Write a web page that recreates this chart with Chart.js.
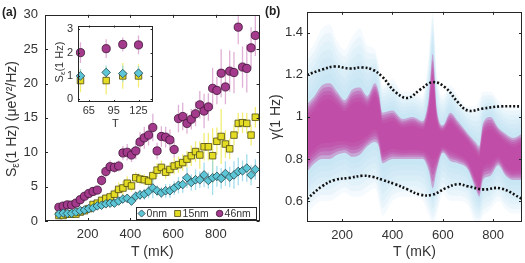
<!DOCTYPE html>
<html lang="en">
<head>
<meta charset="UTF-8">
<title>Noise amplitude and exponent vs temperature</title>
<script src="https://cdn.jsdelivr.net/npm/chart.js"></script>
<style>
  body { margin: 0; background: #fff; font-family: 'Liberation Sans', Arial, sans-serif; }
  #page { position: relative; width: 525px; height: 263px; overflow: hidden; }
  canvas { position: absolute; }
  #chartA { left: 0; top: 0; }
  #chartB { left: 262px; top: 0; }
  #chartIn { left: 48px; top: 14px; }
  .tag { position: absolute; font-size: 12px; font-weight: bold; color: #222; }
</style>
</head>
<body>
<div id="page">
  <canvas id="chartA" width="265" height="263"></canvas>
  <canvas id="chartB" width="263" height="263"></canvas>
  <canvas id="chartIn" width="110" height="118"></canvas>
  <div class="tag" style="left:2px; top:5px;">(a)</div>
  <div class="tag" style="left:265px; top:4px;">(b)</div>
</div>

<script>
const FONT = "'Liberation Sans', Arial, sans-serif";
const INK = '#262626';
const LABEL = '#333';

// ---- panel (a): S(1 Hz) vs T ----
const tempA = [65, 85, 105, 125, 145, 165, 185, 205, 225, 245, 265, 285, 305, 325, 345, 365, 385, 405, 425, 445,
  465, 485, 505, 525, 545, 565, 585, 605, 625, 645, 665, 685, 705, 725, 745, 765, 785, 805, 825, 845, 865, 885,
  905, 925, 945, 965, 985];
const names = ['0nm', '15nm', '46nm'];
const s0nm = [1.0, 1.15, 1.1, 1.12, 1.3, 1.5, 1.6, 1.8, 1.9, 2.2, 2.3, 2.5, 2.6, 2.6, 2.9, 3.2, 3.3, 2.9, 3.6, 3.8,
  3.9, 4.3, 4.8, 4.4, 4.1, 4.4, 4.4, 4.8, 5.2, 5.3, 6.3, 5.6, 6.0, 6.0, 6.7, 5.9, 6.3, 6.5, 6.2, 6.9,
  6.4, 6.7, 7.2, 7.3, 7.7, 6.7, 7.5];
const s15nm = [0.8, 0.8, 1.0, 1.0, 1.0, 1.3, 1.5, 1.8, 2.4, 2.6, 3.0, 3.3, 3.5, 3.9, 4.6, 4.8, 5.5, 5.1, 6.3, 6.1,
  6.0, 5.8, 6.6, 7.4, 7.8, 7.1, 7.5, 8.0, 8.2, 8.5, 9.0, 9.5, 10.1, 9.6, 10.8, 10.8, 9.5, 11.6, 12.3, 11.2,
  10.5, 12.5, 14.2, 14.3, 14.2, 12.5, 15.1];
const s46nm = [2.0, 2.17, 2.35, 2.33, 2.6, 3.1, 3.6, 4.0, 4.3, 4.5, 5.9, 7.2, 7.9, 7.8, 8.0, 9.9, 10.0, 9.6, 10.2, 11.5,
  12.1, 12.5, 13.6, 10.2, 12.3, 12.2, 11.8, 10.4, 14.9, 15.2, 14.2, 14.8, 15.6, 16.9, 16.0, 16.6, 19.3, 19.0, 21.5, 19.5,
  21.8, 21.6, 28.2, 22.4, 22.2, 25.2, 27.0];
const e0nm = [0.2, 0.2, 0.2, 0.2, 0.3, 0.3, 0.3, 0.3, 0.3, 0.4, 0.4, 0.4, 0.4, 0.5, 0.5, 0.6, 0.6, 0.6, 0.7, 0.7,
  0.8, 1.0, 1.5, 0.8, 0.8, 1.0, 1.0, 1.0, 1.2, 1.2, 1.5, 1.2, 1.5, 1.2, 1.8, 1.2, 2.5, 1.5, 1.5, 1.8,
  1.5, 2.0, 2.0, 1.5, 2.0, 1.5, 1.5];
const e15nm = [0.2, 0.2, 0.2, 0.2, 0.3, 0.3, 0.4, 0.4, 0.5, 0.5, 0.6, 0.6, 0.7, 0.8, 1.0, 1.0, 1.0, 0.8, 0.8, 0.8,
  0.8, 0.8, 0.8, 1.0, 1.0, 1.0, 1.0, 1.2, 1.2, 1.2, 1.2, 1.5, 1.5, 2.0, 2.0, 2.0, 4.0, 2.0, 4.0, 2.0,
  1.5, 1.5, 1.5, 1.5, 1.5, 1.5, 1.5];
const e46nm = [0.3, 0.3, 0.3, 0.3, 0.4, 0.4, 0.5, 0.5, 0.6, 0.6, 0.8, 0.9, 0.9, 0.8, 0.8, 1.0, 1.2, 1.0, 1.2, 1.4,
  1.6, 1.5, 2.0, 1.2, 1.5, 1.5, 1.5, 1.2, 2.0, 2.0, 1.5, 1.5, 1.8, 2.0, 2.5, 2.0, 3.0, 2.0, 3.5, 2.5,
  3.0, 3.0, 2.5, 3.0, 3.5, 3.0, 3.0];
const aXTicks = [200, 400, 600, 800];
const aYTicks = [0, 5, 10, 15, 20, 25, 30];

// ---- inset of (a): low temperatures ----
const tempIn = [55, 86, 106, 125];
const in0nm = [1.0, 1.15, 1.1, 1.12];
const in15nm = [0.8, 0.8, 1.0, 1.0];
const in46nm = [2.0, 2.17, 2.35, 2.33];
const inE0nm = [0.3, 0.3, 0.35, 0.3];
const inE15nm = [0.5, 0.6, 0.55, 0.5];
const inE46nm = [0.45, 0.4, 0.3, 0.4];
const inXTicks = [65, 95, 125];
const inYTicks = [0, 1, 2, 3];

// ---- panel (b): gamma(1 Hz) distribution vs T ----
const bT = [60, 90, 120, 150, 180, 210, 240, 270, 300, 330, 345, 360, 400, 440, 480, 520, 545, 560, 575, 600,
  630, 660, 700, 730, 745, 760, 790, 820, 850, 880, 915];
const coreHi = [1.06, 1.10, 1.15, 1.16, 1.12, 1.08, 1.13, 1.14, 1.10, 1.16, 1.12, 1.02, 1.03, 0.99, 1.00, 0.98, 1.10, 1.30, 1.05, 0.96,
  1.02, 0.98, 0.92, 0.88, 0.86, 0.97, 1.00, 0.95, 0.92, 0.90, 0.92];
const coreLo = [0.74, 0.78, 0.80, 0.80, 0.82, 0.83, 0.81, 0.82, 0.86, 0.88, 0.86, 0.78, 0.80, 0.80, 0.80, 0.80, 0.74, 0.66, 0.74, 0.83,
  0.79, 0.78, 0.75, 0.66, 0.62, 0.70, 0.72, 0.77, 0.72, 0.70, 0.70];
const haloHi = [1.30, 1.35, 1.42, 1.44, 1.36, 1.32, 1.38, 1.42, 1.34, 1.32, 1.25, 1.15, 1.18, 1.12, 1.12, 1.10, 1.30, 1.50, 1.22, 1.10,
  1.15, 1.10, 1.05, 1.05, 1.08, 1.12, 1.12, 1.08, 1.05, 1.05, 1.05];
const haloLo = [0.54, 0.58, 0.60, 0.60, 0.62, 0.64, 0.62, 0.62, 0.64, 0.66, 0.60, 0.53, 0.60, 0.62, 0.62, 0.60, 0.53, 0.50, 0.53, 0.63,
  0.60, 0.60, 0.58, 0.50, 0.50, 0.53, 0.56, 0.60, 0.56, 0.54, 0.54];
const boundT = [60, 120, 170, 230, 280, 320, 360, 410, 460, 510, 560, 610, 660, 700, 760, 830, 915];
const boundHi = [1.20, 1.225, 1.24, 1.23, 1.235, 1.225, 1.19, 1.12, 1.09, 1.13, 1.165, 1.14, 1.07, 1.03, 1.04, 1.05, 1.05];
const boundLo = [0.61, 0.67, 0.70, 0.71, 0.72, 0.715, 0.70, 0.68, 0.655, 0.63, 0.63, 0.66, 0.68, 0.67, 0.655, 0.66, 0.61];
const bXTicks = [200, 400, 600, 800];
const bYTicks = [0.6, 0.8, 1, 1.2, 1.4];

// marker looks for the three samples
const looks = [
  { style: 'rectRot', fill: '#5CC6D6', edge: '#24434a', bar: 'rgba(140,214,232,0.8)', r: 4.3 },
  { style: 'rect', fill: '#E5DD23', edge: '#4d4812', bar: 'rgba(240,234,90,0.85)', r: 4.6 },
  { style: 'circle', fill: '#A33A8C', edge: '#3b1333', bar: 'rgba(214,150,200,0.75)', r: 4.1 }
];

function errorLine(xs, ys, es) {
  const pts = [];
  xs.forEach((x, i) => {
    pts.push({ x, y: ys[i] - es[i] }, { x, y: ys[i] + es[i] }, { x, y: null });
  });
  return pts;
}

function seriesSets(xs, series, errs, clip) {
  const sets = [];
  series.forEach((ys, k) => {
    sets.push({ type: 'line', data: errorLine(xs, ys, errs[k]), borderColor: looks[k].bar, borderWidth: 1.3,
      pointRadius: 0, spanGaps: false, fill: false, order: 10, clip });
  });
  series.forEach((ys, k) => {
    sets.push({ label: names[k], data: xs.map((x, i) => ({ x, y: ys[i] })), pointStyle: looks[k].style,
      pointRadius: looks[k].r, backgroundColor: looks[k].fill, borderColor: looks[k].edge, borderWidth: 0.8,
      order: k + 1, clip });
  });
  return sets;
}

function fixedTicks(list) {
  return scale => { scale.ticks = list.map(v => ({ value: v })); };
}

// box around plot area with inward ticks, MATLAB style
const frame = {
  id: 'frame',
  beforeDatasetsDraw(chart, args, opts) {
    if (!opts.fill) return;
    const a = chart.chartArea, ctx = chart.ctx;
    ctx.save();
    ctx.fillStyle = opts.fill;
    ctx.fillRect(a.left, a.top, a.width, a.height);
    ctx.restore();
  },
  afterDatasetsDraw(chart, args, opts) {
    const { ctx, chartArea: a, scales: { x, y } } = chart;
    const len = opts.tick || 3;
    ctx.save();
    ctx.strokeStyle = INK;
    ctx.lineWidth = 1;
    ctx.beginPath();
    x.ticks.forEach(t => {
      const p = Math.round(x.getPixelForValue(t.value)) + 0.5;
      ctx.moveTo(p, a.bottom); ctx.lineTo(p, a.bottom - len);
      ctx.moveTo(p, a.top); ctx.lineTo(p, a.top + len);
    });
    y.ticks.forEach(t => {
      const p = Math.round(y.getPixelForValue(t.value)) + 0.5;
      ctx.moveTo(a.left, p); ctx.lineTo(a.left + len, p);
      ctx.moveTo(a.right, p); ctx.lineTo(a.right - len, p);
    });
    ctx.stroke();
    ctx.strokeRect(Math.round(a.left) + 0.5, Math.round(a.top) + 0.5, Math.round(a.width) - 1, Math.round(a.height) - 1);
    ctx.restore();
  }
};

// rotated axis title with a subscript part
function subTitle(parts, x, y, size) {
  return {
    id: 'subTitle',
    afterDraw(chart) {
      const ctx = chart.ctx;
      const fontOf = p => (p.sub ? size * 0.72 : size) + 'px ' + FONT;
      ctx.save();
      ctx.translate(x, y);
      ctx.rotate(-Math.PI / 2);
      ctx.fillStyle = LABEL;
      ctx.textBaseline = 'middle';
      ctx.textAlign = 'left';
      let total = 0;
      parts.forEach(p => { ctx.font = fontOf(p); total += ctx.measureText(p.text).width; });
      let cx = -total / 2;
      parts.forEach(p => {
        ctx.font = fontOf(p);
        ctx.fillText(p.text, cx, p.sub ? size * 0.3 : 0);
        cx += ctx.measureText(p.text).width;
      });
      ctx.restore();
    }
  };
}

function markerPath(ctx, style, x, y, r) {
  ctx.beginPath();
  if (style === 'circle') ctx.arc(x, y, r, 0, Math.PI * 2);
  else if (style === 'rect') { const s = r * Math.SQRT1_2; ctx.rect(x - s, y - s, 2 * s, 2 * s); }
  else { ctx.moveTo(x - r, y); ctx.lineTo(x, y - r); ctx.lineTo(x + r, y); ctx.lineTo(x, y + r); ctx.closePath(); }
}

// legend box sitting in the lower right corner of panel (a)
const legendA = {
  id: 'legendA',
  afterDraw(chart) {
    const { ctx, chartArea: a } = chart;
    const w = 120, h = 12;
    const left = a.right - 4 - w, top = a.bottom - 2 - h;
    const offs = [6, 42, 84];
    const radii = [3.6, 4.2, 3.3];
    ctx.save();
    ctx.fillStyle = '#fff';
    ctx.fillRect(left, top, w, h);
    ctx.strokeStyle = INK;
    ctx.lineWidth = 1;
    ctx.strokeRect(Math.round(left) + 0.5, Math.round(top) + 0.5, w, h);
    ctx.font = '10.5px ' + FONT;
    ctx.textBaseline = 'middle';
    names.forEach((n, k) => {
      const mx = left + offs[k], my = top + h / 2 + 0.5;
      markerPath(ctx, looks[k].style, mx, my, radii[k]);
      ctx.fillStyle = looks[k].fill;
      ctx.fill();
      ctx.strokeStyle = looks[k].edge;
      ctx.lineWidth = 0.8;
      ctx.stroke();
      ctx.fillStyle = LABEL;
      ctx.fillText(n, mx + 5, my + 0.5);
    });
    ctx.restore();
  }
};

const tickFont = { family: FONT, size: 13 };
const titleFont = { family: FONT, size: 14 };

// panel (a)
new Chart(document.getElementById('chartA'), {
  type: 'scatter',
  data: { datasets: seriesSets(tempA, [s0nm, s15nm, s46nm], [e0nm, e15nm, e46nm], true) },
  options: {
    responsive: false, animation: false, devicePixelRatio: 1, events: [],
    layout: { padding: { top: 10, right: 4, left: 0, bottom: 0 } },
    plugins: { legend: { display: false }, tooltip: { enabled: false }, frame: { tick: 3 } },
    scales: {
      x: {
        type: 'linear', min: 0, max: 1005,
        grid: { display: false, drawTicks: false }, border: { display: false },
        afterBuildTicks: fixedTicks(aXTicks),
        ticks: { font: tickFont, color: LABEL, padding: 6, maxRotation: 0, callback: v => String(v) },
        title: { display: true, text: 'T (mK)', font: titleFont, color: LABEL, padding: { top: 0, bottom: 2 } },
        afterFit: s => { s.height = 42; }
      },
      y: {
        min: 0, max: 30,
        grid: { display: false, drawTicks: false }, border: { display: false },
        afterBuildTicks: fixedTicks(aYTicks),
        ticks: { font: tickFont, color: LABEL, padding: 7, callback: v => String(v) },
        afterFit: s => { s.width = 45; }
      }
    }
  },
  plugins: [frame, legendA,
    subTitle([{ text: 'S' }, { text: 'ε', sub: true }, { text: '(1 Hz) (μeV²/Hz)' }], 12, 119, 14)]
});

// inset
new Chart(document.getElementById('chartIn'), {
  type: 'scatter',
  data: { datasets: seriesSets(tempIn, [in0nm, in15nm, in46nm], [inE0nm, inE15nm, inE46nm], false) },
  options: {
    responsive: false, animation: false, devicePixelRatio: 1, events: [],
    layout: { padding: { top: 7, right: 5, left: 0, bottom: 0 } },
    plugins: { legend: { display: false }, tooltip: { enabled: false }, frame: { tick: 2, fill: '#fff' } },
    scales: {
      x: {
        type: 'linear', min: 52, max: 142,
        grid: { display: false, drawTicks: false }, border: { display: false },
        afterBuildTicks: fixedTicks(inXTicks),
        ticks: { font: { family: FONT, size: 11 }, color: LABEL, padding: 2, maxRotation: 0, callback: v => String(v) },
        title: { display: true, text: 'T', font: { family: FONT, size: 11 }, color: LABEL, padding: { top: 0, bottom: 1 } },
        afterFit: s => { s.height = 30; }
      },
      y: {
        min: -0.12, max: 3.16,
        grid: { display: false, drawTicks: false }, border: { display: false },
        afterBuildTicks: fixedTicks(inYTicks),
        ticks: { font: { family: FONT, size: 11 }, color: LABEL, padding: 5, callback: v => String(v) },
        afterFit: s => { s.width = 30; }
      }
    }
  },
  plugins: [frame, subTitle([{ text: 'S' }, { text: 'ε', sub: true }, { text: '(1 Hz)' }], 12, 48, 11)]
});

// panel (b): many thin translucent bands, halo edge -> core edge -> core centre
const haloSteps = [0, 0.14, 0.28, 0.42, 0.56, 0.7, 0.84];
const coreSteps = [0, 0.1, 0.2, 0.3, 0.42];
const haloColour = 'rgba(165,215,240,0.12)';
const coreColour = 'rgba(192,62,160,0.38)';

function layerEdge(i, part, s) {
  const mid = (coreHi[i] + coreLo[i]) / 2;
  if (part === 'halo') {
    return [haloLo[i] + (coreLo[i] - haloLo[i]) * s, haloHi[i] + (coreHi[i] - haloHi[i]) * s];
  }
  return [coreLo[i] + (mid - coreLo[i]) * s, coreHi[i] + (mid - coreHi[i]) * s];
}

const layers = haloSteps.map(s => ({ part: 'halo', s, colour: haloColour }))
  .concat(coreSteps.map(s => ({ part: 'core', s, colour: coreColour })));

const bSets = [];
layers.forEach((layer, k) => {
  const common = { borderWidth: 0, pointRadius: 0, cubicInterpolationMode: 'monotone', order: 100 - k };
  bSets.push(Object.assign({ data: bT.map((t, i) => ({ x: t, y: layerEdge(i, layer.part, layer.s)[1] })), fill: false }, common));
  bSets.push(Object.assign({ data: bT.map((t, i) => ({ x: t, y: layerEdge(i, layer.part, layer.s)[0] })), fill: '-1',
    backgroundColor: layer.colour }, common));
});
[boundHi, boundLo].forEach(vals => {
  bSets.push({ data: boundT.map((t, i) => ({ x: t, y: vals[i] })), borderColor: '#111', borderWidth: 2.6,
    borderDash: [2, 2], borderCapStyle: 'butt', pointRadius: 0, tension: 0.4, fill: false, order: 0 });
});

new Chart(document.getElementById('chartB'), {
  type: 'line',
  data: { datasets: bSets },
  options: {
    responsive: false, animation: false, devicePixelRatio: 1, events: [],
    layout: { padding: { top: 10, right: 3, left: 0, bottom: 0 } },
    plugins: { legend: { display: false }, tooltip: { enabled: false }, frame: { tick: 3 } },
    scales: {
      x: {
        type: 'linear', min: 60, max: 915,
        grid: { display: false, drawTicks: false }, border: { display: false },
        afterBuildTicks: fixedTicks(bXTicks),
        ticks: { font: tickFont, color: LABEL, padding: 6, maxRotation: 0, callback: v => String(v) },
        title: { display: true, text: 'T (mK)', font: titleFont, color: LABEL, padding: { top: 0, bottom: 2 } },
        afterFit: s => { s.height = 41; }
      },
      y: {
        min: 0.5, max: 1.5,
        grid: { display: false, drawTicks: false }, border: { display: false },
        afterBuildTicks: fixedTicks(bYTicks),
        ticks: { font: tickFont, color: LABEL, padding: 4, callback: v => String(v) },
        title: { display: true, text: 'γ(1 Hz)', font: titleFont, color: LABEL, padding: { top: 6, bottom: 0 } },
        afterFit: s => { s.width = 45; }
      }
    }
  },
  plugins: [frame]
});
</script>
</body>
</html>
